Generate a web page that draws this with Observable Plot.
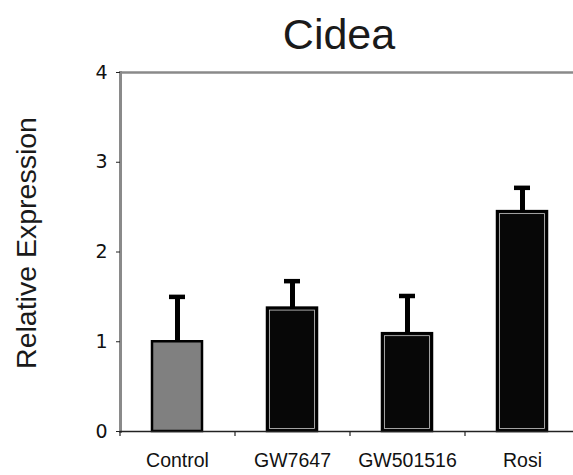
<!DOCTYPE html>
<html>
<head>
<meta charset="utf-8">
<script src="https://cdn.jsdelivr.net/npm/d3@7"></script>
<script src="https://cdn.jsdelivr.net/npm/@observablehq/plot@0.6"></script>
<style>
  html, body { margin: 0; padding: 0; background: #fff; }
</style>
</head>
<body>
<div id="chart"></div>
<script>
const categories = ["Control", "GW7647", "GW501516", "Rosi"];
const values = [1.0, 1.375, 1.09, 2.45];
const errorTops = [1.50, 1.675, 1.51, 2.715];
const barColors = ["#808080", "#070707", "#070707", "#070707"];
const yTicks = [0, 1, 2, 3, 4];
const titleText = "Cidea";
const yLabel = "Relative Expression";

const data = categories.map((c, i) => ({
  cat: c, value: values[i], top: errorTops[i], color: barColors[i], dark: i > 0
}));

const W = 573, H = 475;
const left = 120, xEnd = 580;
const step = (xEnd - left) / categories.length;

const plot = Plot.plot({
  width: W,
  height: H,
  marginLeft: left,
  marginRight: 0,
  marginTop: 72,
  marginBottom: 44,
  style: { background: "#fff", overflow: "visible" },
  x: { domain: categories, range: [left, xEnd], paddingInner: 0.565, paddingOuter: 0.2825, axis: null, label: null },
  y: { domain: [0, 4], axis: null, label: null },
  marks: [
    // top border & left axis line
    Plot.ruleY([4], { stroke: "#8a8a8a", strokeWidth: 2.5 }),
    Plot.frame({ anchor: "left", stroke: "#8a8a8a", strokeWidth: 3 }),
    // bars
    Plot.barY(data, { x: "cat", y: "value", fill: "color", stroke: "#000", strokeWidth: 2.5 }),
    Plot.barY(data.filter(d => d.dark), { x: "cat", y: "value", fill: "none", stroke: "#c8c8c8", strokeWidth: 0.8, inset: 2.5 }),
    // error bars
    Plot.ruleX(data, { x: "cat", y1: "value", y2: "top", stroke: "#000", strokeWidth: 5 }),
    Plot.tickY(data, { x: "cat", y: "top", stroke: "#000", strokeWidth: 4.5, insetLeft: 17, insetRight: 17 }),
    // x axis line
    Plot.ruleY([0], { stroke: "#222", strokeWidth: 1.5 }),
    // x boundary ticks
    Plot.ruleX(categories, { x: d => d, y1: 0, y2: -0.055, dx: -step / 2, stroke: "#222", strokeWidth: 1.2 }),
    // y axis ticks & labels
    Plot.axisY(yTicks, {
      tickSize: 4, tickPadding: 9, fontSize: 19, stroke: "#222", label: null,
      fontFamily: "DejaVu Sans", fill: "#111", tickFormat: d => String(d)
    }),
    // x labels
    Plot.axisX(categories, {
      tickSize: 0, tickPadding: 22, fontSize: 19.5, fill: "#111", label: null,
      fontFamily: "Liberation Sans, Arial, sans-serif"
    }),
    // title
    Plot.text([titleText], {
      frameAnchor: "top", text: d => d, fontSize: 43, dx: -8, dy: -24, lineAnchor: "bottom",
      fill: "#1a1a1a", fontFamily: "Liberation Sans, Arial, sans-serif"
    }),
    // y label
    Plot.text([yLabel], {
      frameAnchor: "left", text: d => d, rotate: -90, fontSize: 28.5, dx: -94, dy: -9,
      textAnchor: "middle", lineAnchor: "middle",
      fill: "#1a1a1a", fontFamily: "Liberation Sans, Arial, sans-serif"
    })
  ]
});

document.getElementById("chart").appendChild(plot);
</script>
</body>
</html>
